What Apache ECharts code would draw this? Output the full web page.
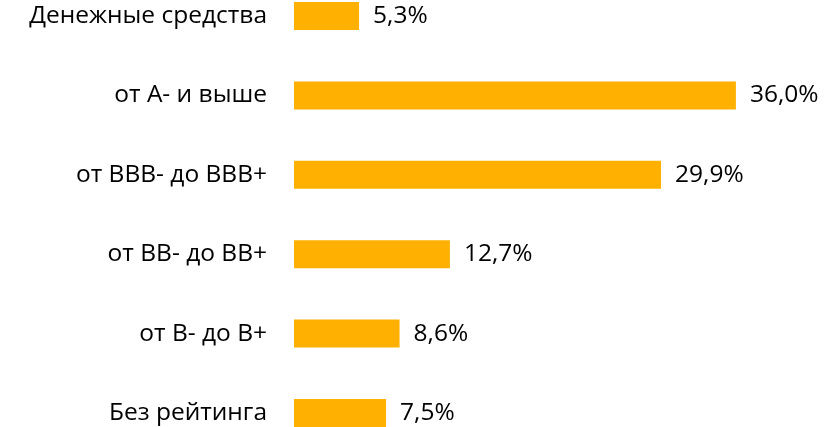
<!DOCTYPE html>
<html>
<head>
<meta charset="utf-8">
<script src="https://cdn.jsdelivr.net/npm/echarts@6/dist/echarts.min.js"></script>
<style>
  html, body { margin: 0; padding: 0; background: #fff; }
  #chart { width: 838px; height: 427px; }
</style>
</head>
<body>
<div id="chart"></div>
<script>
// категории сверху вниз
var categories = ['Денежные средства', 'от A- и выше', 'от BBB- до BBB+', 'от BB- до BB+', 'от B- до B+', 'Без рейтинга'];
var values = [5.3, 36.0, 29.9, 12.7, 8.6, 7.5];

var font = '"Open Sans", "Noto Sans", sans-serif';

var dom = echarts.init(document.getElementById('chart'));
var option = {
    backgroundColor: '#ffffff',
    animation: false,
    // boundaryGap false -> категории стоят на крайних делениях
    grid: {
        left: 294,
        right: 53,
        top: 16,
        bottom: 14
    },
    xAxis: {
        type: 'value',
        min: 0,
        max: 40,
        show: false
    },
    yAxis: {
        type: 'category',
        inverse: true,
        boundaryGap: false,
        data: categories,
        axisLine: { show: false },
        axisTick: { show: false },
        splitLine: { show: false },
        axisLabel: {
            margin: 27,
            color: '#000',
            fontSize: 24.5,
            fontFamily: font
        }
    },
    series: [{
        type: 'bar',
        data: values,
        barWidth: 28,
        itemStyle: { color: '#FFB000' },
        label: {
            show: true,
            position: 'right',
            distance: 14,
            color: '#000',
            fontSize: 24.5,
            fontFamily: font,
            formatter: function (p) {
                return p.value.toFixed(1).replace('.', ',') + '%';
            }
        }
    }]
};
dom.setOption(option);
</script>
</body>
</html>
